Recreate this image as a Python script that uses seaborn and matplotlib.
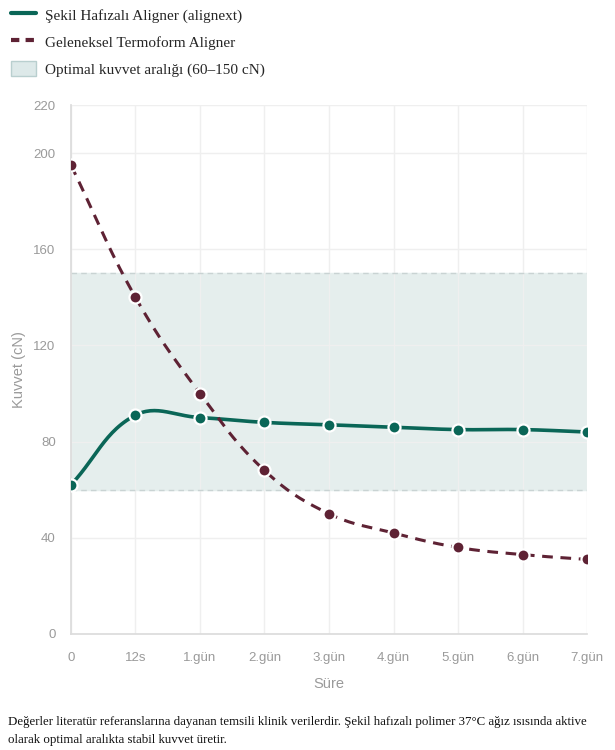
import numpy as np
import pandas as pd
import matplotlib
matplotlib.use("Agg")
import matplotlib.pyplot as plt
import seaborn as sns
from matplotlib.lines import Line2D
from matplotlib.patches import Patch

# Data
labels = ["0", "12s", "1.gün", "2.gün", "3.gün", "4.gün", "5.gün", "6.gün", "7.gün"]
alignext = [62, 91, 90, 88, 87, 86, 85, 85, 84]
termoform = [195, 140, 100, 68, 50, 42, 36, 33, 31]
band_low, band_high = 60, 150
y_ticks = [0, 40, 80, 120, 160, 200, 220]

teal = "#0a6657"
maroon = "#5e2234"
grey = "#9a9a9a"

sns.set_theme(style="white")
plt.rcParams['font.family'] = ['Liberation Sans', 'DejaVu Sans']


def spline(ys, tension=0.4, sx=64.5, sy=2.405, n=30):
    # chart.js style cardinal spline, computed in pixel-ish space
    xs = np.arange(len(ys), dtype=float)
    pts = np.column_stack([xs * sx, np.array(ys, float) * sy])
    cps = []
    for i in range(len(pts)):
        prev = pts[max(i - 1, 0)]
        cur = pts[i]
        nxt = pts[min(i + 1, len(pts) - 1)]
        d01 = np.hypot(*(cur - prev))
        d12 = np.hypot(*(nxt - cur))
        tot = d01 + d12 if d01 + d12 > 0 else 1
        fa = tension * d01 / tot
        fb = tension * d12 / tot
        cps.append((cur - fa * (nxt - prev), cur + fb * (nxt - prev)))
    out = []
    t = np.linspace(0, 1, n)[:, None]
    for i in range(len(pts) - 1):
        p0, p3 = pts[i], pts[i + 1]
        p1, p2 = cps[i][1], cps[i + 1][0]
        seg = (1 - t) ** 3 * p0 + 3 * (1 - t) ** 2 * t * p1 + 3 * (1 - t) * t ** 2 * p2 + t ** 3 * p3
        out.append(seg if i == 0 else seg[1:])
    out = np.vstack(out)
    return pd.DataFrame({"x": out[:, 0] / sx, "y": out[:, 1] / sy})


fig = plt.figure(figsize=(6.15, 7.5), dpi=100)
ax = fig.add_axes([0.1154, 0.1547, 0.8391, 0.7053])

# optimal band
ax.axhspan(band_low, band_high, color="#e5eeed", zorder=0)
ax.axhline(band_low, color="#c9d3d3", lw=1, ls=(0, (4, 3)), zorder=1)
ax.axhline(band_high, color="#c9d3d3", lw=1, ls=(0, (4, 3)), zorder=1)

a = spline(alignext)
b = spline(termoform)
sns.lineplot(data=a, x="x", y="y", ax=ax, color=teal, lw=2.6, sort=False, zorder=3)
sns.lineplot(data=b, x="x", y="y", ax=ax, color=maroon, lw=2.2, sort=False,
             linestyle=(0, (3.5, 2.5)), zorder=3)

pts = pd.DataFrame({"x": np.arange(len(labels)), "a": alignext, "b": termoform})
sns.scatterplot(data=pts, x="x", y="a", ax=ax, color=teal, s=75, edgecolor="white",
                linewidth=1.6, zorder=4)
sns.scatterplot(data=pts, x="x", y="b", ax=ax, color=maroon, s=75, edgecolor="white",
                linewidth=1.6, zorder=4)

ax.set_xlim(0, len(labels) - 1)
ax.set_ylim(0, 220)
ax.set_xticks(range(len(labels)))
ax.set_xticklabels(labels)
ax.set_yticks(y_ticks)
ax.grid(True, color="#efefef", lw=1)
ax.set_axisbelow(True)
for s in ["top", "right"]:
    ax.spines[s].set_visible(False)
for s in ["left", "bottom"]:
    ax.spines[s].set_color("#dcdcdc")
ax.tick_params(axis="both", colors="#dcdcdc", labelcolor=grey, labelsize=9.5,
               length=6, width=1, pad=5)
ax.tick_params(axis="x", pad=7)
ax.set_xlabel("Süre", color=grey, fontsize=10.5, labelpad=9)
ax.set_ylabel("Kuvvet (cN)", color=grey, fontsize=10.5, labelpad=5)

# legend
handles = [
    Line2D([0], [0], color=teal, lw=3),
    Line2D([0], [0], color=maroon, lw=3, ls=(0, (2, 1.5))),
    Patch(facecolor="#dde9e9", edgecolor="#b9cfcf", lw=1),
]
names = ["Şekil Hafızalı Aligner (alignext)", "Geleneksel Termoform Aligner",
         "Optimal kuvvet aralığı (60–150 cN)"]
fig.legend(handles, names, loc="upper left", bbox_to_anchor=(0.0, 1.005), frameon=False,
           prop={"family": "Liberation Serif", "size": 11}, handlelength=1.65,
           handleheight=1.1, labelspacing=0.75, handletextpad=0.6, borderaxespad=0.3)

fig.text(0.013, 0.046, "Değerler literatür referanslarına dayanan temsili klinik verilerdir. "
         "Şekil hafızalı polimer 37°C ağız ısısında aktive\nolarak optimal aralıkta stabil kuvvet üretir.",
         family="Liberation Serif", fontsize=9.3, color="#111111", linespacing=1.75, va="top")

fig.savefig("out.png", dpi=100)
